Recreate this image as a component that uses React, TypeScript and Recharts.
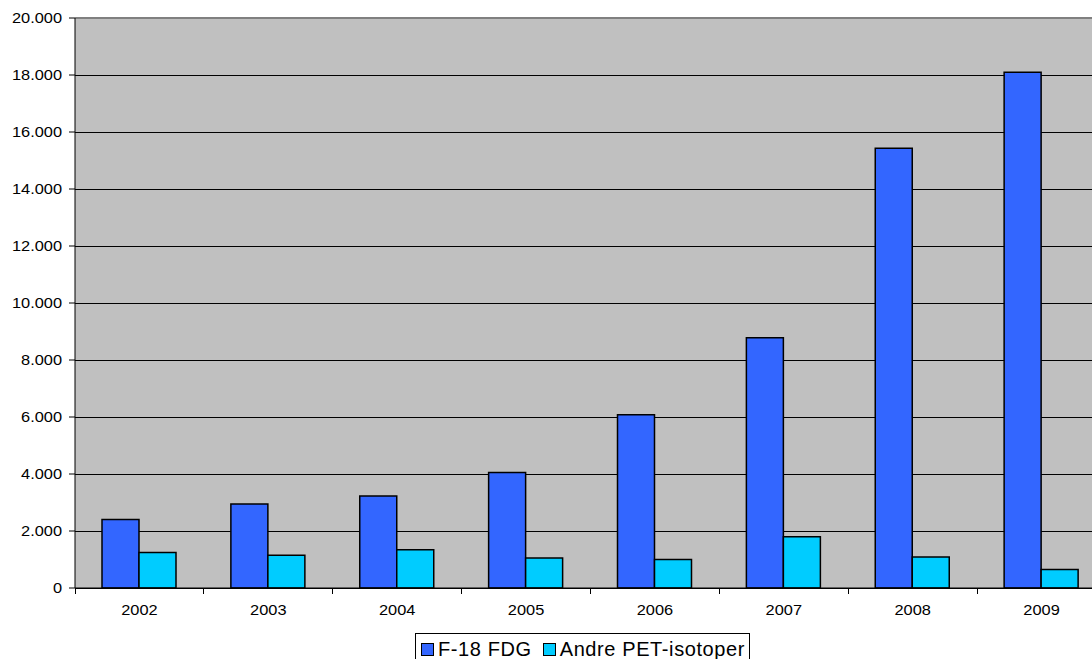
import { BarChart, Bar, XAxis, YAxis, CartesianGrid, Legend, ReferenceLine } from 'recharts';

const years = ['2002', '2003', '2004', '2005', '2006', '2007', '2008', '2009'];
const fdg = [2400, 2950, 3230, 4050, 6080, 8780, 15430, 18100];
const andre = [1250, 1150, 1340, 1050, 1000, 1800, 1090, 650];
const yTicks = [0, 2000, 4000, 6000, 8000, 10000, 12000, 14000, 16000, 18000, 20000];

const data = years.map((year, i) => ({ year, fdg: fdg[i], andre: andre[i] }));

const font = '"Liberation Sans", Arial, sans-serif';
// the original labels are a bit wider than plain Arial
const stretch = 1.17;

const fmt = (v: number) => (v === 0 ? '0' : v.toLocaleString('de-DE'));

// category tick: label in the middle, tick mark on the band's left edge
function YearTick(props: any) {
  const { x, y, payload } = props;
  const left = x - (payload.offset || 0);
  return (
    <g>
      <line x1={left} y1={y} x2={left} y2={y + 6} stroke="#000" strokeWidth={1} shapeRendering="crispEdges" />
      <text
        transform={`translate(${x},${y + 27}) scale(${stretch},1)`}
        textAnchor="middle"
        fontFamily={font}
        fontSize={14}
        fill="#000"
      >
        {payload.value}
      </text>
    </g>
  );
}

function ValueTick(props: any) {
  const { x, y, payload } = props;
  return (
    <text
      transform={`translate(${x},${y + 5}) scale(${stretch},1)`}
      textAnchor="end"
      fontFamily={font}
      fontSize={14}
      fill="#000"
    >
      {fmt(payload.value)}
    </text>
  );
}

function LegendBox() {
  const items = [
    { label: 'F-18 FDG', color: '#3366FF' },
    { label: 'Andre PET-isotoper', color: '#00CCFF' },
  ];
  return (
    <div
      style={{
        display: 'flex',
        alignItems: 'center',
        border: '1px solid #000',
        background: '#fff',
        padding: '4px 4px 4px 5px',
        fontFamily: font,
        fontSize: 20,
        letterSpacing: 0.6,
        color: '#000',
        lineHeight: '22px',
        whiteSpace: 'nowrap',
      }}
    >
      {items.map((it, i) => (
        <span key={it.label} style={{ display: 'flex', alignItems: 'center', marginLeft: i ? 11 : 0 }}>
          <span
            style={{
              display: 'inline-block',
              width: 11,
              height: 11,
              background: it.color,
              border: '1px solid #000',
              marginRight: 4,
            }}
          />
          {it.label}
        </span>
      ))}
    </div>
  );
}

export default function App() {
  return (
    <div style={{ position: 'absolute', left: 0, top: 0, width: 1092, height: 659, overflow: 'hidden', background: '#fff' }}>
      <BarChart
        width={1110}
        height={659}
        data={data}
        margin={{ top: 18, right: 4, bottom: 41, left: 0 }}
        barCategoryGap={27}
        barGap={0}
      >
        <CartesianGrid vertical={false} stroke="#000" fill="#C0C0C0" fillOpacity={1} shapeRendering="crispEdges" />
        <ReferenceLine y={20000} stroke="#808080" strokeWidth={2} />
        <XAxis
          dataKey="year"
          axisLine={{ stroke: '#000' }}
          tickLine={false}
          tickSize={0}
          tickMargin={0}
          height={30}
          interval={0}
          tick={<YearTick />}
        />
        <YAxis
          width={75}
          domain={[0, 20000]}
          ticks={yTicks}
          interval={0}
          axisLine={{ stroke: '#000' }}
          tickLine={{ stroke: '#000' }}
          tickSize={6}
          tickMargin={7}
          tick={<ValueTick />}
        />
        <Legend
          layout="horizontal"
          verticalAlign="middle"
          align="center"
          content={<LegendBox />}
          wrapperStyle={{ position: 'absolute', top: 633, left: 415, width: 'auto' }}
        />
        <Bar dataKey="fdg" name="F-18 FDG" fill="#3366FF" stroke="#000" strokeWidth={1.5} isAnimationActive={false} />
        <Bar dataKey="andre" name="Andre PET-isotoper" fill="#00CCFF" stroke="#000" strokeWidth={1.5} isAnimationActive={false} />
      </BarChart>
    </div>
  );
}
